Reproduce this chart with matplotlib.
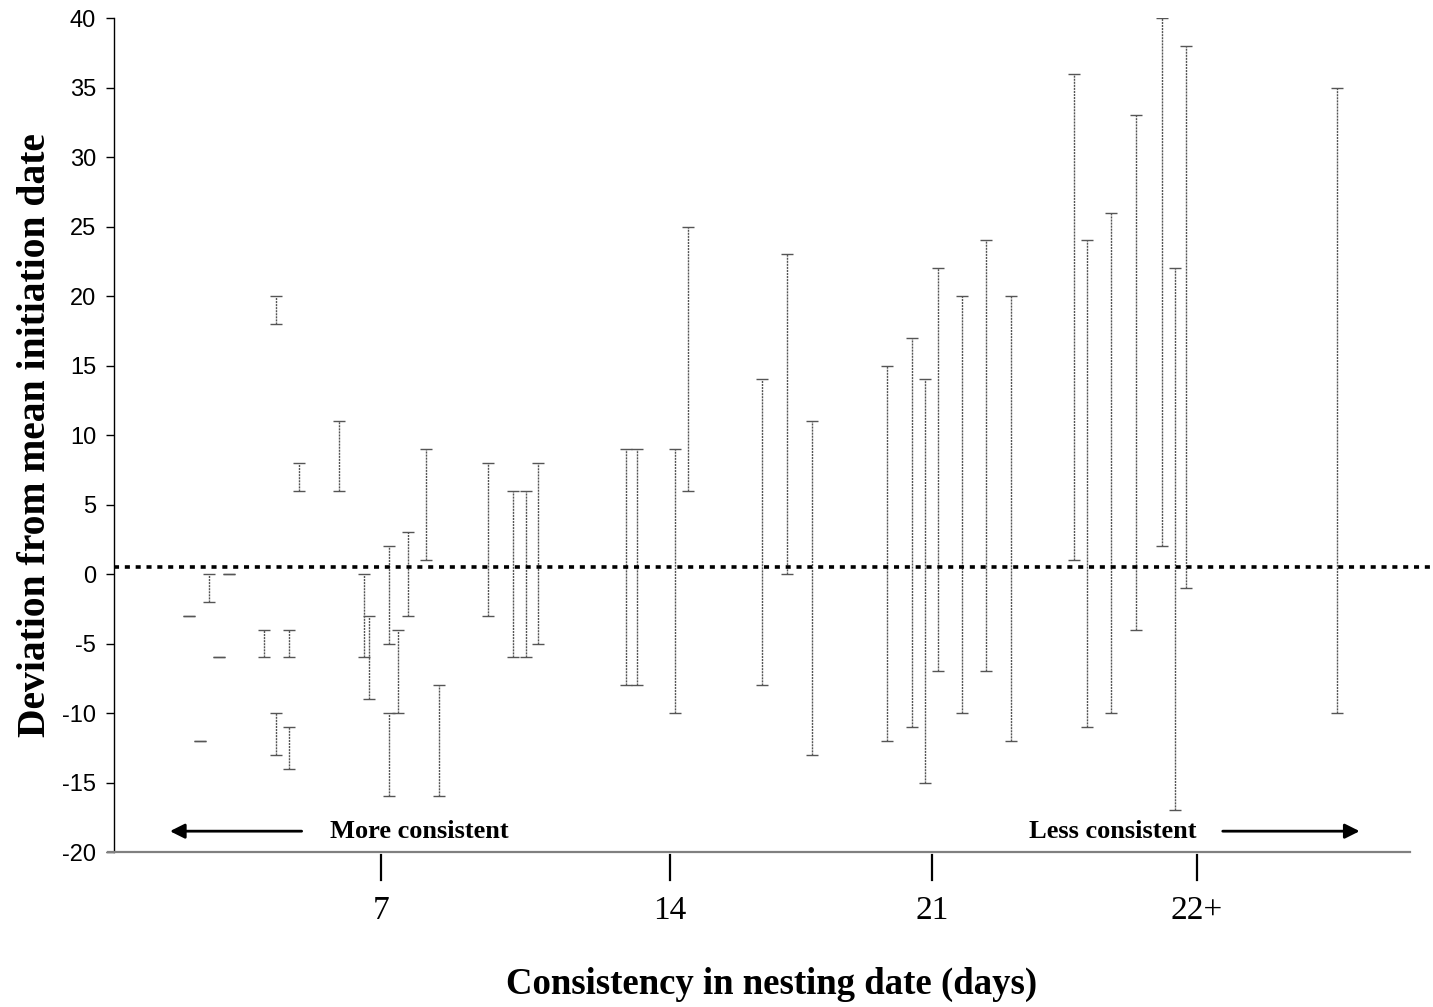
import matplotlib.pyplot as plt
import matplotlib.transforms as mtransforms

plt.rcParams['font.family'] = 'sans-serif'
plt.rcParams['font.sans-serif'] = ['Liberation Sans', 'DejaVu Sans']
plt.rcParams['axes.unicode_minus'] = False

# Individual birds, ordered along the x axis (position index), with the
# range (min, max) of their deviation from the mean initiation date.
positions = [5.8, 6.6, 7.3, 8.1, 8.9, 11.6, 12.5, 12.5, 13.5, 13.5,
             14.3, 17.4, 19.3, 19.7, 21.2, 21.2, 21.9, 22.7, 24.1, 25.1,
             28.9, 30.8, 31.8, 32.7, 39.5, 40.4, 43.3, 44.3, 50.0, 52.0,
             53.9, 59.7, 61.6, 62.6, 63.6, 65.5, 67.3, 69.3, 74.1, 75.1,
             77.0, 78.9, 80.9, 81.9, 82.8, 94.4]
low = [-3, -12, -2, -6, 0, -6, 18, -13, -6, -14,
       6, 6, -6, -9, -5, -16, -10, -3, 1, -16,
       -3, -6, -6, -5, -8, -8, -10, 6, -8, 0,
       -13, -12, -11, -15, -7, -10, -7, -12, 1, -11,
       -10, -4, 2, -17, -1, -10]
high = [-3, -12, 0, -6, 0, -4, 20, -10, -4, -11,
        8, 11, 0, -3, 2, -10, -4, 3, 9, -8,
        8, 6, 6, 8, 9, 9, 9, 25, 14, 23,
        11, 15, 17, 14, 22, 20, 24, 20, 36, 24,
        26, 33, 40, 22, 38, 35]

mean_line = 0.5

tick_pos = [20.6, 42.9, 63.2, 83.6]
tick_labels = ['7', '14', '21', '22+']

fig = plt.figure(figsize=(14.33, 10.07), dpi=100)
ax = fig.add_axes([0.0796, 0.1539, 0.9204, 0.8282])

mid = [(lo + hi) / 2 for lo, hi in zip(low, high)]
err = [[m - lo for m, lo in zip(mid, low)], [hi - m for m, hi in zip(mid, high)]]
eb = ax.errorbar(positions, mid, yerr=err, fmt='none', ecolor='#555555',
                 elinewidth=1.0, capsize=4.5, capthick=1.0)
eb[2][0].set_linestyle((0, (1.5, 0.7)))

# mean initiation date
ax.axhline(mean_line, color='black', lw=2.6, linestyle=(0, (1.4, 1.6)))

ax.set_xlim(0, 101.85)
ax.set_ylim(-20, 40)
ax.set_yticks(range(-20, 41, 5))
ax.tick_params(axis='y', direction='out', length=6, width=1, pad=7, labelsize=17)

ax.spines['top'].set_visible(False)
ax.spines['right'].set_visible(False)
ax.spines['left'].set_linewidth(1)
ax.spines['bottom'].set_color('#808080')
ax.spines['bottom'].set_linewidth(1.6)
ax.spines['bottom'].set_bounds(-0.5, 100.1)

# x ticks drawn detached from the axis
ax.set_xticks(tick_pos)
ax.set_xticklabels(tick_labels, family='Liberation Serif', fontsize=24)
ax.tick_params(axis='x', length=0, pad=31)
trans = mtransforms.blended_transform_factory(ax.transData, ax.transAxes)
for t in tick_pos:
    ax.plot([t, t], [-0.0036, -0.0336], color='black', lw=1.6,
            transform=trans, clip_on=False)

# direction arrows
ax.annotate('', xy=(4.1, -18.5), xytext=(14.7, -18.5),
            arrowprops=dict(arrowstyle='-|>', color='black', lw=2, mutation_scale=22))
ax.annotate('', xy=(96.4, -18.5), xytext=(85.4, -18.5),
            arrowprops=dict(arrowstyle='-|>', color='black', lw=2, mutation_scale=22))
ax.text(23.6, -18.5, 'More consistent', ha='center', va='center',
        family='Liberation Serif', fontweight='bold', fontsize=19)
ax.text(77.1, -18.5, 'Less consistent', ha='center', va='center',
        family='Liberation Serif', fontweight='bold', fontsize=19)

fig.text(0.0245, 0.568, 'Deviation from mean initiation date', rotation=90,
         ha='center', va='center', family='Liberation Serif',
         fontweight='bold', fontsize=28.5)
fig.text(772 / 1433, 0.022, 'Consistency in nesting date (days)',
         ha='center', va='center', family='Liberation Serif',
         fontweight='bold', fontsize=26.5)

fig.savefig('out.png', dpi=100)
